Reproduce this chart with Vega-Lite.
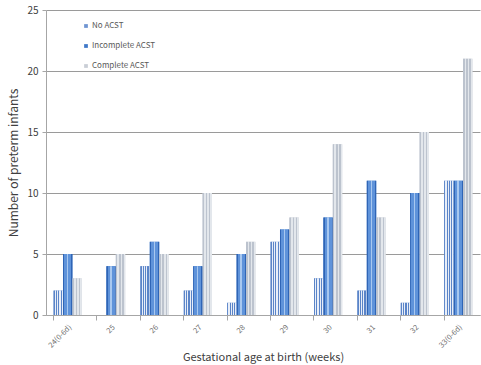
{
  "$schema": "https://vega.github.io/schema/vega-lite/v6.json",
  "autosize": "none",
  "width": 434,
  "height": 305,
  "padding": {"left": 46, "top": 10, "right": 1, "bottom": 50},
  "background": "white",
  "config": {
    "view": {"stroke": null},
    "font": "Noto Sans CJK KR"
  },
  "data": {
    "values": [
      {"age": "24(0-6d)", "group": "No ACST", "n": 2},
      {"age": "24(0-6d)", "group": "Incomplete ACST", "n": 5},
      {"age": "24(0-6d)", "group": "Complete ACST", "n": 3},
      {"age": "25", "group": "No ACST", "n": 0},
      {"age": "25", "group": "Incomplete ACST", "n": 4},
      {"age": "25", "group": "Complete ACST", "n": 5},
      {"age": "26", "group": "No ACST", "n": 4},
      {"age": "26", "group": "Incomplete ACST", "n": 6},
      {"age": "26", "group": "Complete ACST", "n": 5},
      {"age": "27", "group": "No ACST", "n": 2},
      {"age": "27", "group": "Incomplete ACST", "n": 4},
      {"age": "27", "group": "Complete ACST", "n": 10},
      {"age": "28", "group": "No ACST", "n": 1},
      {"age": "28", "group": "Incomplete ACST", "n": 5},
      {"age": "28", "group": "Complete ACST", "n": 6},
      {"age": "29", "group": "No ACST", "n": 6},
      {"age": "29", "group": "Incomplete ACST", "n": 7},
      {"age": "29", "group": "Complete ACST", "n": 8},
      {"age": "30", "group": "No ACST", "n": 3},
      {"age": "30", "group": "Incomplete ACST", "n": 8},
      {"age": "30", "group": "Complete ACST", "n": 14},
      {"age": "31", "group": "No ACST", "n": 2},
      {"age": "31", "group": "Incomplete ACST", "n": 11},
      {"age": "31", "group": "Complete ACST", "n": 8},
      {"age": "32", "group": "No ACST", "n": 1},
      {"age": "32", "group": "Incomplete ACST", "n": 10},
      {"age": "32", "group": "Complete ACST", "n": 15},
      {"age": "33(0-6d)", "group": "No ACST", "n": 11},
      {"age": "33(0-6d)", "group": "Incomplete ACST", "n": 11},
      {"age": "33(0-6d)", "group": "Complete ACST", "n": 21}
    ]
  },
  "resolve": {"axis": {"x": "independent"}},
  "encoding": {
    "xOffset": {
      "field": "group",
      "type": "nominal",
      "scale": {"domain": ["No ACST", "Incomplete ACST", "Complete ACST"], "paddingInner": 0}
    },
    "y": {
      "field": "n",
      "type": "quantitative",
      "scale": {"domain": [0, 25]},
      "axis": {
        "title": "Number of preterm infants",
        "titleFont": "Noto Sans CJK KR",
        "titleFontSize": 12,
        "titleFontWeight": "normal",
        "titleColor": "#404040",
        "titlePadding": 6,
        "values": [0, 5, 10, 15, 20, 25],
        "labelFontSize": 10,
        "labelColor": "#404040",
        "labelPadding": 4,
        "domainColor": "#a6a6a6",
        "tickColor": "#a6a6a6",
        "tickSize": 4,
        "gridColor": "#9a9a9a",
        "gridWidth": 1
      }
    }
  },
  "layer": [
    {
      "mark": {"type": "bar"},
      "encoding": {
        "x": {
          "field": "age",
          "type": "nominal",
          "sort": null,
          "scale": {"paddingInner": 0.35, "paddingOuter": 0.175},
          "axis": {
            "orient": "bottom",
            "title": "Gestational age at birth (weeks)",
            "titleFont": "Noto Sans CJK KR",
            "titleFontSize": 11,
            "titleFontWeight": "normal",
            "titleColor": "#404040",
            "titlePadding": 3,
            "labelAngle": -45,
            "labelAlign": "right",
            "labelBaseline": "top",
            "labelFontSize": 7.5,
            "labelColor": "#707070",
            "labelPadding": 8,
            "ticks": false,
            "domainColor": "#a6a6a6",
            "grid": false
          }
        },
        "fill": {
          "field": "group",
          "type": "nominal",
          "scale": {
            "domain": ["No ACST", "Incomplete ACST", "Complete ACST"],
            "range": ["#6f95d2", "#3f78c8", "#c9ced6"]
          },
          "legend": {
            "title": null,
            "orient": "none",
            "legendX": 36,
            "legendY": 12,
            "direction": "vertical",
            "symbolType": "square",
            "symbolSize": 14,
            "symbolStrokeWidth": 0,
            "labelFontSize": 8,
            "labelColor": "#595959",
            "labelOffset": 2,
            "rowPadding": 12
          }
        }
      }
    },
    {
      "transform": [{"filter": "datum.group === 'No ACST'"}],
      "mark": {
        "type": "bar",
        "fill": {
          "gradient": "linear", "x1": 0, "y1": 0, "x2": 1, "y2": 0,
          "stops": [
            {"offset": 0, "color": "#5a84c8"}, {"offset": 0.12, "color": "#5a84c8"},
            {"offset": 0.12, "color": "#e8eef8"}, {"offset": 0.25, "color": "#e8eef8"},
            {"offset": 0.25, "color": "#5a84c8"}, {"offset": 0.37, "color": "#5a84c8"},
            {"offset": 0.37, "color": "#e8eef8"}, {"offset": 0.5, "color": "#e8eef8"},
            {"offset": 0.5, "color": "#5a84c8"}, {"offset": 0.62, "color": "#5a84c8"},
            {"offset": 0.62, "color": "#e8eef8"}, {"offset": 0.75, "color": "#e8eef8"},
            {"offset": 0.75, "color": "#5a84c8"}, {"offset": 0.87, "color": "#5a84c8"},
            {"offset": 0.87, "color": "#e8eef8"}, {"offset": 1, "color": "#e8eef8"}
          ]
        }
      },
      "encoding": {
        "x": {
          "field": "age",
          "type": "nominal",
          "sort": null,
          "axis": {
            "orient": "bottom",
            "title": null,
            "labels": false,
            "domain": false,
            "grid": false,
            "bandPosition": 0,
            "tickColor": "#a6a6a6",
            "tickSize": 5
          }
        }
      }
    },
    {
      "transform": [{"filter": "datum.group === 'Incomplete ACST'"}],
      "mark": {
        "type": "bar",
        "fill": {
          "gradient": "linear", "x1": 0, "y1": 0, "x2": 1, "y2": 0,
          "stops": [
            {"offset": 0, "color": "#2f65b6"}, {"offset": 0.13, "color": "#2f65b6"},
            {"offset": 0.13, "color": "#5f93da"}, {"offset": 0.4, "color": "#5f93da"},
            {"offset": 0.4, "color": "#a8c8f0"}, {"offset": 0.56, "color": "#a8c8f0"},
            {"offset": 0.56, "color": "#5f93da"}, {"offset": 0.87, "color": "#5f93da"},
            {"offset": 0.87, "color": "#2f65b6"}, {"offset": 1, "color": "#2f65b6"}
          ]
        }
      },
      "encoding": {
        "x": {"field": "age", "type": "nominal", "sort": null, "axis": null}
      }
    },
    {
      "transform": [{"filter": "datum.group === 'Complete ACST'"}],
      "mark": {
        "type": "bar",
        "fill": {
          "gradient": "linear", "x1": 0, "y1": 0, "x2": 1, "y2": 0,
          "stops": [
            {"offset": 0, "color": "#bcc3ce"}, {"offset": 0.17, "color": "#bcc3ce"},
            {"offset": 0.17, "color": "#e3e7ec"}, {"offset": 0.33, "color": "#e3e7ec"},
            {"offset": 0.33, "color": "#bcc3ce"}, {"offset": 0.5, "color": "#bcc3ce"},
            {"offset": 0.5, "color": "#e3e7ec"}, {"offset": 0.67, "color": "#e3e7ec"},
            {"offset": 0.67, "color": "#bcc3ce"}, {"offset": 0.83, "color": "#bcc3ce"},
            {"offset": 0.83, "color": "#e3e7ec"}, {"offset": 1, "color": "#e3e7ec"}
          ]
        }
      },
      "encoding": {
        "x": {"field": "age", "type": "nominal", "sort": null, "axis": null}
      }
    }
  ]
}
